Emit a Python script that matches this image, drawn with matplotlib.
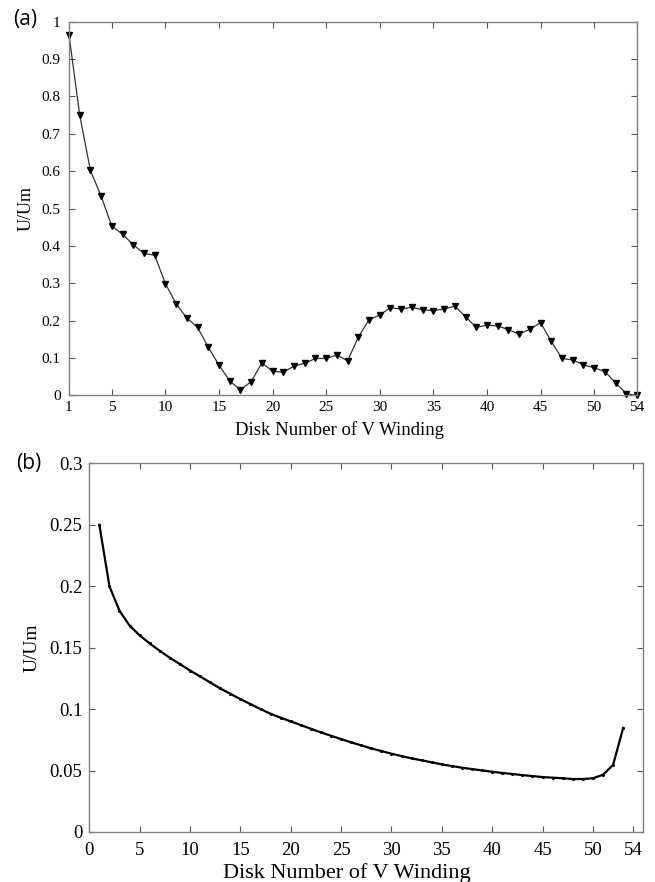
import matplotlib
matplotlib.use("Agg")
import matplotlib.pyplot as plt
from matplotlib.ticker import FuncFormatter

plt.rcParams['font.family'] = ['Liberation Serif', 'DejaVu Serif']

# panel (a): measured voltage distribution along V winding
disk_a = list(range(1, 55))
u_a = [0.965, 0.750, 0.602, 0.533, 0.453, 0.431, 0.403, 0.380, 0.375, 0.299,
       0.245, 0.207, 0.182, 0.129, 0.081, 0.039, 0.015, 0.037, 0.087, 0.065,
       0.062, 0.079, 0.086, 0.099, 0.099, 0.108, 0.093, 0.156, 0.203, 0.215,
       0.235, 0.231, 0.236, 0.229, 0.227, 0.231, 0.239, 0.211, 0.182, 0.188,
       0.186, 0.176, 0.164, 0.177, 0.195, 0.145, 0.099, 0.095, 0.082, 0.074,
       0.064, 0.034, 0.005, 0.000]
ticks_a = [1, 5, 10, 15, 20, 25, 30, 35, 40, 45, 50, 54]
yticks_a = [0, 0.1, 0.2, 0.3, 0.4, 0.5, 0.6, 0.7, 0.8, 0.9, 1]

# panel (b): calculated distribution
disk_b = list(range(1, 54))
u_b = [0.250, 0.200, 0.180, 0.168, 0.160, 0.1534, 0.1474, 0.1417, 0.1366, 0.1314,
       0.1266, 0.1217, 0.1168, 0.1125, 0.1081, 0.1041, 0.1000, 0.0962, 0.0930, 0.0900,
       0.0870, 0.0840, 0.0810, 0.0783, 0.0756, 0.0729, 0.0705, 0.0680, 0.0659, 0.0637,
       0.0618, 0.0599, 0.0583, 0.0567, 0.0550, 0.0537, 0.0523, 0.0512, 0.0501, 0.0490,
       0.0480, 0.0472, 0.0463, 0.0455, 0.0447, 0.0442, 0.0437, 0.0431, 0.0431, 0.0437,
       0.0466, 0.0545, 0.0846]
ticks_b = [0, 5, 10, 15, 20, 25, 30, 35, 40, 45, 50, 54]
yticks_b = [0, 0.05, 0.1, 0.15, 0.2, 0.25, 0.3]

fig = plt.figure(figsize=(6.55, 8.82), dpi=100)
ax1 = fig.add_axes([0.1053, 0.5516, 0.8672, 0.424])
ax2 = fig.add_axes([0.1363, 0.0567, 0.8458, 0.418])

fmt = FuncFormatter(lambda v, p: '%g' % v)

# (a)
ax1.plot(disk_a, u_a, color='#333333', lw=0.9, marker='v', ms=4,
         mfc='black', mec='black', clip_on=False)
ax1.set_xlim(1, 54)
ax1.set_ylim(0, 1)
ax1.set_xticks(ticks_a)
ax1.set_yticks(yticks_a)
ax1.yaxis.set_major_formatter(fmt)
ax1.tick_params(direction='in', top=True, right=True, length=4, width=0.8,
                labelsize=11, color='#555555')
ax1.tick_params(axis='y', pad=6)
ax1.tick_params(axis='x', pad=4)
ax1.set_xlabel('Disk Number of V Winding', fontsize=13.5)
ax1.xaxis.set_label_coords(0.477, -0.068)
ax1.set_ylabel('U/Um', fontsize=13, labelpad=5)

# (b)
ax2.plot(disk_b, u_b, color='black', lw=1.6, marker='.', ms=2.5)
ax2.set_xlim(0, 55)
ax2.set_ylim(0, 0.3)
ax2.set_xticks(ticks_b)
ax2.set_yticks(yticks_b)
ax2.yaxis.set_major_formatter(fmt)
ax2.tick_params(direction='in', top=True, right=True, length=4, width=0.8,
                labelsize=13.5, color='#555555')
ax2.tick_params(axis='y', pad=5)
ax2.tick_params(axis='x', pad=7)
ax2.set_xlabel('Disk Number of V Winding', fontsize=16)
ax2.xaxis.set_label_coords(0.465, -0.085)
ax2.set_ylabel('U/Um', fontsize=14, labelpad=6)

for ax in (ax1, ax2):
    for s in ax.spines.values():
        s.set_color('#808080')
        s.set_linewidth(1.0)

fig.text(0.02, 0.978, '(a)', fontsize=15, family=['Open Sans', 'DejaVu Sans'],
         va='center', ha='left')
fig.text(0.025, 0.475, '(b)', fontsize=15, family=['Open Sans', 'DejaVu Sans'],
         va='center', ha='left')

fig.savefig('out.png', dpi=100)
